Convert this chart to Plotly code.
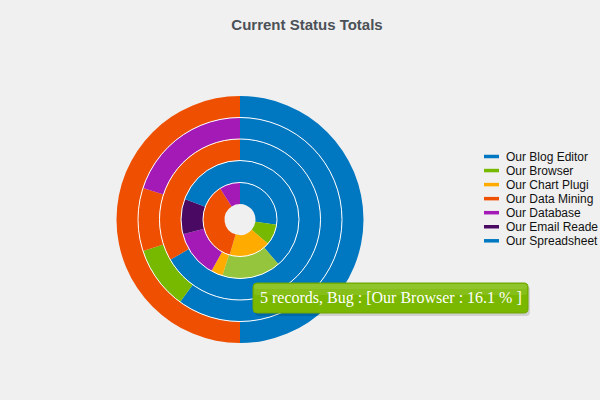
import plotly.graph_objects as go

# ---------------- data ----------------
products = ["Our Blog Editor", "Our Browser", "Our Chart Plugin", "Our Data Mining",
            "Our Database", "Our Email Reader", "Our Spreadsheet"]
product_colors = ["#0077c1", "#76b900", "#ffab00", "#ef4f00", "#a31ab6", "#4a0a63", "#0077c1"]

statuses = ["Closed", "Fixed", "Open", "Bug", "New"]          # outer ring -> inner ring
closed_counts = [1, 0, 0, 1, 0, 0, 0]
fixed_counts = [6, 1, 0, 1, 2, 0, 0]
open_counts = [2, 0, 0, 1, 0, 0, 0]
bug_counts = [12, 5, 1, 0, 4, 3, 6]
new_counts = [3, 1, 2, 4, 1, 0, 0]
ring_counts = [closed_counts, fixed_counts, open_counts, bug_counts, new_counts]

hover_status = "Bug"
hover_product = "Our Browser"
hover_color = "#95c53c"

title_text = "Current Status Totals"

# ---------------- geometry / style ----------------
W, H = 600, 400
CX, CY = 240, 219.5                        # pie centre in px (from top-left)
ring_outer = [123.5, 102, 80.5, 59, 37]    # outer radius of each ring, px
hole_r = 15.5
BG = "#f0f0f0"


def px_x(x):
    return x / W


def px_y(y):
    return (H - y) / H


def rounded_rect(x0, y0, x1, y1, r):
    """SVG path (paper coords) of a rounded rectangle given in px (top-left origin)."""
    pts = [
        ("M", (x0 + r, y0)), ("L", (x1 - r, y0)), ("Q", (x1, y0), (x1, y0 + r)),
        ("L", (x1, y1 - r)), ("Q", (x1, y1), (x1 - r, y1)),
        ("L", (x0 + r, y1)), ("Q", (x0, y1), (x0, y1 - r)),
        ("L", (x0, y0 + r)), ("Q", (x0, y0), (x0 + r, y0)),
    ]
    out = []
    for item in pts:
        cmd = item[0]
        coords = " ".join(f"{px_x(a):.5f},{px_y(b):.5f}" for a, b in item[1:])
        out.append(f"{cmd} {coords}")
    return " ".join(out) + " Z"


fig = go.Figure()

for i, (status, counts) in enumerate(zip(statuses, ring_counts)):
    R = ring_outer[i]
    r_in = ring_outer[i + 1] if i + 1 < len(ring_outer) else hole_r
    cols = list(product_colors)
    if status == hover_status:
        cols[products.index(hover_product)] = hover_color
    fig.add_trace(go.Pie(
        labels=products,
        values=counts,
        name=status,
        sort=False,
        direction="clockwise",
        rotation=0,
        hole=r_in / R,
        marker=dict(colors=cols, line=dict(width=0)),
        textinfo="none",
        showlegend=False,
        domain=dict(x=[px_x(CX - R), px_x(CX + R)],
                    y=[px_y(CY + R), px_y(CY - R)]),
    ))

shapes = []
# white separators between rings
for R in ring_outer[1:]:
    shapes.append(dict(type="circle", xref="paper", yref="paper",
                       x0=px_x(CX - R), x1=px_x(CX + R),
                       y0=px_y(CY + R), y1=px_y(CY - R),
                       line=dict(color="#ffffff", width=1), fillcolor="rgba(0,0,0,0)"))

annotations = []
# legend (line swatches + truncated labels)
LEG_X0, LEG_X1, LEG_TX, LEG_Y0, LEG_DY = 484, 499, 504, 156.5, 14.05
for i, (p, c) in enumerate(zip(products, product_colors)):
    y = LEG_Y0 + i * LEG_DY
    shapes.append(dict(type="line", xref="paper", yref="paper",
                       x0=px_x(LEG_X0), x1=px_x(LEG_X1), y0=px_y(y), y1=px_y(y),
                       line=dict(color=c, width=3.5)))
    annotations.append(dict(x=px_x(LEG_TX), y=px_y(y), xref="paper", yref="paper",
                            xanchor="left", yanchor="middle", showarrow=False,
                            text=p[:15],
                            font=dict(family="Liberation Sans, Arial", size=12, color="#111111")))

# tooltip of the hovered slice
hi = statuses.index(hover_status)
hp = products.index(hover_product)
hv = ring_counts[hi][hp]
pct = 100.0 * hv / sum(ring_counts[hi])
tip_text = f"{hv} records, {hover_status} : [{hover_product} : {pct:.1f} % ]"
TX0, TY0, TX1, TY1 = 253, 283, 528, 313
# soft shadow
shapes.append(dict(type="path", xref="paper", yref="paper",
                   path=rounded_rect(TX0 + 2, TY0 + 3, TX1 + 2, TY1 + 3, 4),
                   line=dict(width=0), fillcolor="rgba(0,0,0,0.13)", layer="above"))
# box
shapes.append(dict(type="path", xref="paper", yref="paper",
                   path=rounded_rect(TX0, TY0, TX1, TY1, 4),
                   line=dict(color="#6ea600", width=1), fillcolor="#7ab800", layer="above"))
# lighter top (gradient approximation)
shapes.append(dict(type="path", xref="paper", yref="paper",
                   path=rounded_rect(TX0 + 1, TY0 + 1, TX1 - 1, TY0 + 12, 3),
                   line=dict(width=0), fillcolor="rgba(255,255,255,0.10)", layer="above"))
shapes.append(dict(type="path", xref="paper", yref="paper",
                   path=rounded_rect(TX0 + 1, TY0 + 1, TX1 - 1, TY0 + 6, 3),
                   line=dict(width=0), fillcolor="rgba(255,255,255,0.08)", layer="above"))
annotations.append(dict(x=px_x((TX0 + TX1) / 2), y=px_y((TY0 + TY1) / 2), xref="paper", yref="paper",
                        xanchor="center", yanchor="middle", showarrow=False,
                        text=tip_text, align="center",
                        font=dict(family="Liberation Serif, Times New Roman", size=16, color="#ffffff")))

fig.update_layout(
    width=W, height=H, autosize=False,
    margin=dict(l=0, r=0, t=0, b=0),
    paper_bgcolor=BG, plot_bgcolor=BG,
    title=dict(text=title_text, x=307 / W, xanchor="center", xref="paper",
               y=1 - 24.5 / H, yanchor="middle", yref="container",
               font=dict(family="Liberation Sans, Arial", size=15, color="#4b5157", weight="bold")),
    shapes=shapes,
    annotations=annotations,
    showlegend=False,
)

fig.write_html("out.html")
